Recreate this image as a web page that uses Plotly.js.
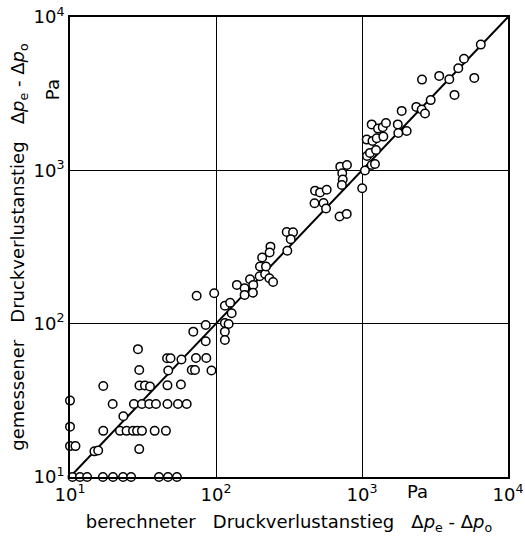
<!DOCTYPE html>
<html>
<head>
<meta charset="utf-8">
<script src="https://cdn.plot.ly/plotly-3.0.1.min.js"></script>
<style>html,body{margin:0;padding:0;background:#fff;}#chart{width:525px;height:544px;}</style>
</head>
<body>
<div id="chart"></div>
<script>
// calculated pressure-loss increase (Pa)
const calcX = [
  10, 10, 10, 10.9,
  10.4, 11.7, 13.1, 16.8, 19.7, 23.1, 26.2, 40.7, 46.9, 54.0,
  14.7, 15.6, 16.9, 22.0, 24.4, 27.0, 28.8, 31.1, 38.0, 45.4,
  29.8, 23.2, 19.6, 27.4, 31.1, 34.9, 38.8, 46.5, 54.9, 63.0,
  16.9, 29.9, 32.6, 35.3, 46.5, 57.5, 29.8, 47.1, 68.2, 71.8,
  93.1, 46.2, 48.8, 58.0, 72.9, 85.8, 29.2, 85.0, 69.9, 85.0,
  115, 122, 115, 115, 115, 125, 128, 73.7, 97.2, 139,
  157, 171, 180, 157, 179, 200, 207, 236, 233, 199,
  217, 220, 232, 246, 305, 337, 325, 308, 477, 516,
  573, 473, 545, 567, 702, 786, 710, 789, 732, 738,
  728, 1003, 1048, 1165, 1227, 1082, 1134, 1247, 1077, 1180,
  1261, 1165, 1287, 1387, 1459, 1400, 1758, 1773, 2023, 1870,
  2355, 2564, 2701, 2954, 2576, 3380, 3963, 4566, 4995, 4301,
  5876, 6512
];
// measured pressure-loss increase (Pa)
const measY = [
  31.5, 21.3, 15.9, 15.9,
  10, 10, 10, 10, 10, 10, 10, 10, 10, 10,
  14.7, 14.9, 20.0, 20.0, 20.0, 20.0, 20.0, 20.0, 20.0, 20.0,
  15.2, 24.9, 29.9, 29.9, 29.9, 29.9, 29.9, 29.9, 29.9, 29.9,
  39.2, 39.5, 39.5, 38.9, 39.6, 40.1, 49.9, 49.5, 49.9, 49.9,
  49.5, 59.5, 59.5, 58.4, 59.7, 59.7, 68.2, 76.8, 88.7, 98.1,
  101, 99.5, 88.7, 78.3, 131, 137, 117, 152, 158, 179,
  170, 195, 179, 154, 159, 236, 270, 318, 291, 204,
  211, 236, 198, 187, 396, 394, 355, 299, 737, 718,
  748, 610, 613, 564, 500, 520, 1057, 1084, 958, 872,
  803, 764, 998, 1084, 1101, 1241, 1299, 1358, 1586, 1556,
  1620, 1993, 1871, 1911, 2038, 1659, 1993, 1754, 1807, 2441,
  2592, 2495, 2350, 2871, 3906, 4130, 3927, 4637, 5348, 3105,
  4008, 6607
];
// line of equality
const lineX = [10, 10000];
const lineY = [10, 10000];
const tickVals = [10, 100, 1000, 10000];
const tickText = ['10<sup>1</sup>', '10<sup>2</sup>', '10<sup>3</sup>', '10<sup>4</sup>'];

const font = 'DejaVu Sans, Liberation Sans, sans-serif';
const gap = '\u00a0\u00a0\u00a0';

const traces = [
  {x: lineX, y: lineY, mode: 'lines', type: 'scatter',
   line: {color: '#000', width: 2}, hoverinfo: 'skip', showlegend: false},
  {x: calcX, y: measY, mode: 'markers', type: 'scatter', cliponaxis: false,
   marker: {symbol: 'circle', size: 8.5, color: '#fff', line: {color: '#000', width: 1.5}},
   showlegend: false}
];

const axisCommon = {
  type: 'log', range: [1, 4], tickvals: tickVals, ticktext: tickText,
  showgrid: true, gridcolor: '#000', gridwidth: 1,
  showline: true, linecolor: '#000', linewidth: 2, mirror: true,
  ticks: '', zeroline: false,
  tickfont: {family: font, size: 18, color: '#000'}
};

const layout = {
  width: 525, height: 544,
  margin: {l: 70, r: 17, t: 17, b: 67},
  paper_bgcolor: '#fff', plot_bgcolor: '#fff',
  font: {family: font, color: '#000'},
  xaxis: Object.assign({}, axisCommon, {
    title: {text: 'berechneter' + gap + 'Druckverlustanstieg' + gap + 'Δ<i>p</i><sub>e</sub> - Δ<i>p</i><sub>o</sub>',
            font: {family: font, size: 18, color: '#000'}, standoff: 12}
  }),
  yaxis: Object.assign({}, axisCommon, {
    title: {text: 'gemessener' + gap + 'Druckverlustanstieg' + gap + 'Δ<i>p</i><sub>e</sub> - Δ<i>p</i><sub>o</sub>',
            font: {family: font, size: 18, color: '#000'}, standoff: 4}
  }),
  annotations: [
    {text: 'Pa', xref: 'paper', yref: 'paper', x: 0.822, y: -0.005, yanchor: 'top',
     showarrow: false, font: {family: font, size: 18, color: '#000'}},
    {text: 'Pa', xref: 'paper', yref: 'paper', x: -0.07, y: 0.87, textangle: -90,
     showarrow: false, font: {family: font, size: 18, color: '#000'}}
  ]
};

Plotly.newPlot('chart', traces, layout, {displayModeBar: false, staticPlot: true});
</script>
</body>
</html>
